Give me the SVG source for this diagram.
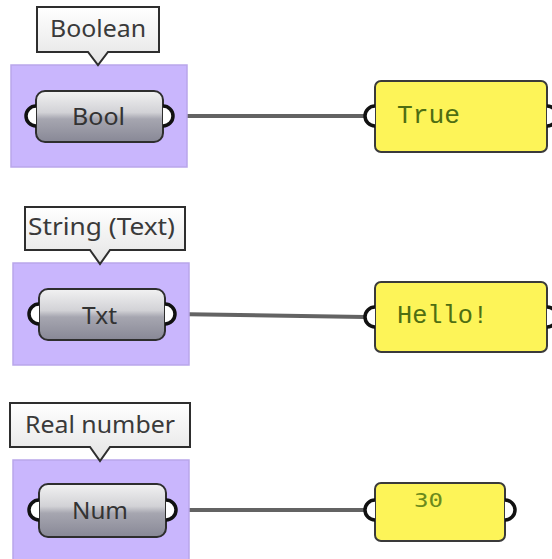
<svg xmlns="http://www.w3.org/2000/svg" width="552" height="559" viewBox="0 0 552 559">
  <defs>
    <linearGradient id="tipFill" x1="0" y1="0" x2="0" y2="1">
      <stop offset="0" stop-color="#ffffff"/>
      <stop offset="1" stop-color="#e4e4e4"/>
    </linearGradient>
    <linearGradient id="compFill" x1="0" y1="0" x2="0" y2="1">
      <stop offset="0" stop-color="#f2f2f2"/>
      <stop offset="0.42" stop-color="#d2d2d6"/>
      <stop offset="0.55" stop-color="#a6a6b0"/>
      <stop offset="1" stop-color="#888896"/>
    </linearGradient>
  </defs>
  <style>
    .group { fill: #c9b6fd; stroke: #b9a6ea; stroke-width: 1.5; }
    .tip { fill: url(#tipFill); stroke: #2e2e2e; stroke-width: 2; }
    .tipText { font-family: "Noto Sans", "Open Sans", sans-serif; font-size: 23px; fill: #3a3a3a; text-anchor: middle; }
    .comp { fill: url(#compFill); stroke: #2e2e2e; stroke-width: 2; }
    .compText { font-family: "Noto Sans", "Open Sans", sans-serif; font-size: 23px; fill: #333333; text-anchor: middle; }
    .port { fill: #ffffff; stroke: #111111; stroke-width: 3.5; }
    .panel { fill: #fdf458; stroke: #3a3a3a; stroke-width: 2; }
    .panelText { font-family: "Liberation Mono", "Courier New", monospace; font-size: 25px; fill: #4e6e12; }
    .numText { font-family: "DejaVu Sans Mono", monospace; font-size: 20px; fill: #6b8a1c; }
    .wire { fill: none; stroke: #636363; stroke-width: 4; stroke-linecap: round; }
  </style>

  <!-- wires -->
  <g id="connectors">
    <path class="wire" d="M172,116 L365,116"/>
    <path class="wire" d="M172,314 L365,317"/>
    <path class="wire" d="M172,510 L365,510"/>
  </g>

  <!-- Boolean parameter -->
  <g id="bool-param">
    <rect class="group" x="11" y="65" width="176" height="102"/>
    <path class="tip" d="M37,7 H159 V52 H108 L98,65 L88,52 H37 Z"/>
    <text class="tipText" x="98" y="37" textLength="96" lengthAdjust="spacingAndGlyphs">Boolean</text>
    <rect class="comp" x="36" y="91" width="127" height="51" rx="9"/>
    <text class="compText" x="98.5" y="125" textLength="53" lengthAdjust="spacingAndGlyphs">Bool</text>
    <path class="port" d="M36,106 A10,10 0 0 0 36,126"/>
    <path class="port" d="M163,106 A10,10 0 0 1 163,126"/>
  </g>

  <!-- String parameter -->
  <g id="text-param">
    <rect class="group" x="13" y="263" width="176" height="102"/>
    <path class="tip" d="M25,207 H185 V250 H110 L100,264 L90,250 H25 Z"/>
    <text class="tipText" x="101.5" y="235" textLength="147" lengthAdjust="spacingAndGlyphs">String (Text)</text>
    <rect class="comp" x="39" y="289" width="126" height="51" rx="9"/>
    <text class="compText" x="99.5" y="324" textLength="35" lengthAdjust="spacingAndGlyphs">Txt</text>
    <path class="port" d="M39,304 A10,10 0 0 0 39,324"/>
    <path class="port" d="M165,304 A10,10 0 0 1 165,324"/>
  </g>

  <!-- Number parameter -->
  <g id="num-param">
    <rect class="group" x="13" y="460" width="176" height="101"/>
    <path class="tip" d="M10,403 H190 V447 H110 L100,461 L90,447 H10 Z"/>
    <text class="tipText" x="100" y="433" textLength="150" lengthAdjust="spacingAndGlyphs">Real number</text>
    <rect class="comp" x="39" y="484" width="127" height="53" rx="9"/>
    <text class="compText" x="100" y="519" textLength="56" lengthAdjust="spacingAndGlyphs">Num</text>
    <path class="port" d="M39,500 A10,10 0 0 0 39,520"/>
    <path class="port" d="M166,500 A10,10 0 0 1 166,520"/>
  </g>

  <!-- Panels -->
  <g id="panel-true">
    <rect class="panel" x="375" y="81" width="172" height="71" rx="6"/>
    <path class="port" d="M375,106 A10,10 0 0 0 375,126"/>
    <path class="port" d="M547,106 A10,10 0 0 1 547,126"/>
    <text class="panelText" x="397" y="123" textLength="63" lengthAdjust="spacingAndGlyphs">True</text>
  </g>

  <g id="panel-hello">
    <rect class="panel" x="375" y="282" width="172" height="70" rx="6"/>
    <path class="port" d="M375,307 A10,10 0 0 0 375,327"/>
    <path class="port" d="M547,307 A10,10 0 0 1 547,327"/>
    <text class="panelText" x="397" y="323" textLength="91" lengthAdjust="spacingAndGlyphs">Hello!</text>
  </g>

  <g id="panel-30">
    <rect class="panel" x="375" y="483" width="130" height="58" rx="6"/>
    <path class="port" d="M375,500 A10,10 0 0 0 375,520"/>
    <path class="port" d="M505,500 A10,10 0 0 1 505,520"/>
    <text class="numText" x="414" y="507" textLength="29" lengthAdjust="spacingAndGlyphs">30</text>
  </g>
</svg>
